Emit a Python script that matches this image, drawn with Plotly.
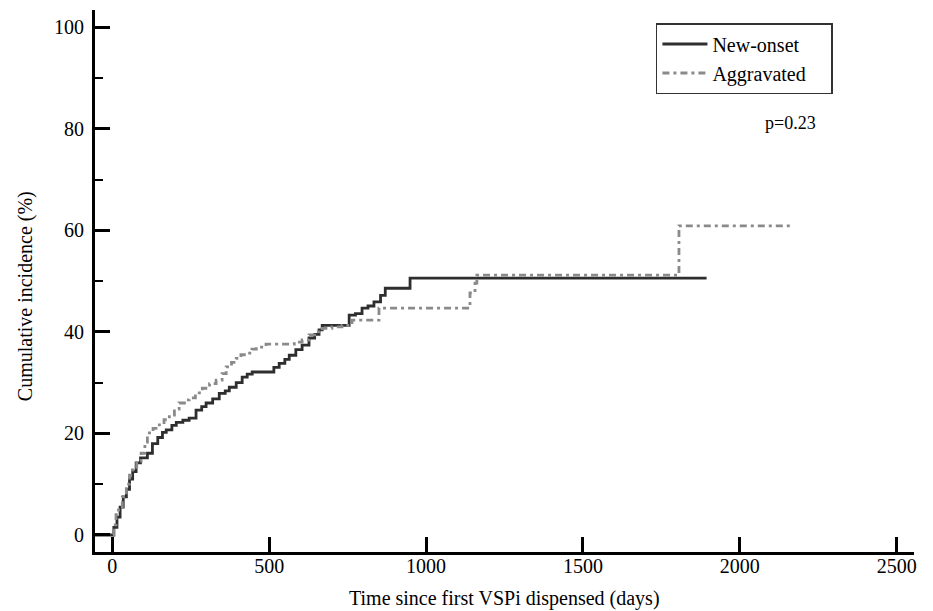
import plotly.graph_objects as go

# New-onset cumulative incidence (%), step curve
new_t = [-55, 0, 5, 15, 25, 35, 45, 55, 65, 76, 90, 112, 128, 145, 160, 172, 190, 204, 225, 245,
         267, 285, 299, 320, 341, 360, 373, 395, 414, 430, 446, 500, 515, 532, 550, 564, 585, 605,
         627, 645, 659, 669, 745, 755, 775, 796, 815, 834, 855, 870, 949, 1894]
new_v = [0, 0, 1.5, 3.5, 5.5, 7.5, 9, 11, 12.5, 14.2, 15.2, 16.1, 18, 19.2, 20.2, 20.7, 21.6, 22.2, 22.6, 23,
         24.6, 25.3, 26, 26.8, 27.9, 28.4, 29.1, 30, 31.1, 31.7, 32.1, 32.1, 33, 33.8, 34.6, 35.4, 36.5, 37.4,
         38.8, 39.5, 40.4, 41.3, 41.3, 43.3, 43.6, 44.7, 45.1, 45.9, 47.2, 48.6, 50.6, 50.6]

# Aggravated cumulative incidence (%), step curve
agg_t = [-55, 0, 5, 12, 20, 32, 45, 55, 64, 78, 92, 104, 112, 130, 150, 165, 182, 198, 213, 230, 245,
         265, 287, 310, 331, 350, 363, 380, 395, 410, 427, 445, 459, 490, 554, 580, 605, 627, 645, 669,
         700, 732, 764, 834, 850, 1124, 1140, 1156, 1162, 1806, 2170]
agg_v = [0, 0, 2, 4, 5.5, 7.5, 10, 11.8, 12.8, 14.5, 16.1, 18.3, 20.1, 21, 21.7, 22.7, 23.6, 24.8, 26, 26.6, 27,
         28, 28.9, 29.8, 30.5, 31.8, 33.1, 34, 34.8, 35.5, 35.8, 36.6, 37, 37.6, 37.6, 38, 38.4, 39.4, 40, 40.7,
         41, 41.3, 42.3, 42.3, 44.7, 44.7, 47.7, 49.6, 51.2, 60.9, 60.9]

x_ticks = [0, 500, 1000, 1500, 2000, 2500]
y_ticks = [0, 20, 40, 60, 80, 100]
y_minor = [10, 30, 50, 70, 90]
p_text = "p=0.23"
x_title = "Time since first VSPi dispensed (days)"
y_title = "Cumulative incidence (%)"
series_names = ["New-onset", "Aggravated"]

FONT = "Liberation Serif, Times New Roman, serif"
PAD = "\u00a0" * 4

fig = go.Figure()
fig.add_trace(go.Scatter(x=new_t, y=new_v, mode="lines", name=series_names[0],
                         line=dict(color="#2e2e2e", width=2.8, shape="hv")))
fig.add_trace(go.Scatter(x=agg_t, y=agg_v, mode="lines", name=series_names[1] + PAD,
                         line=dict(color="#8a8a8a", width=2.8, shape="hv", dash="7px,4px,3px,4px")))

fig.add_annotation(x=2160, y=81.2, text=p_text, showarrow=False, xref="x", yref="y",
                   font=dict(family=FONT, size=18, color="black"))
fig.add_annotation(x=0.5, y=-0.085, xref="paper", yref="paper", text=x_title, showarrow=False,
                   xanchor="center", yanchor="middle", font=dict(family=FONT, size=20, color="black"))
fig.add_annotation(x=-0.0855, y=0.472, xref="paper", yref="paper", text=y_title, showarrow=False,
                   textangle=-90, xanchor="center", yanchor="middle",
                   font=dict(family=FONT, size=20, color="black"))

fig.update_layout(
    width=933, height=611,
    margin=dict(l=87, r=27, t=2, b=67),
    paper_bgcolor="white", plot_bgcolor="white",
    font=dict(family=FONT, size=20, color="black"),
    showlegend=True,
    legend=dict(x=0.901, y=0.976, xanchor="right", yanchor="top",
                bordercolor="#333333", borderwidth=1.5, bgcolor="white",
                font=dict(family=FONT, size=20, color="black"),
                itemwidth=45, tracegroupgap=0),
    xaxis=dict(range=[-55, 2555], tickvals=x_ticks, ticktext=[str(v) for v in x_ticks],
               ticks="inside", ticklen=15, tickwidth=2.5, tickcolor="black",
               showline=True, linecolor="black", linewidth=3, showgrid=False, zeroline=False,
               automargin=False, ticklabelstandoff=-6, tickfont=dict(family=FONT, size=20)),
    yaxis=dict(range=[-3.35, 103.4], tickvals=y_ticks, ticktext=[str(v) for v in y_ticks],
               ticks="inside", ticklen=15, tickwidth=2.5, tickcolor="black",
               minor=dict(tickvals=y_minor, ticks="inside", ticklen=8,
                          tickwidth=2, tickcolor="black", showgrid=False),
               showline=True, linecolor="black", linewidth=3, showgrid=False, zeroline=False,
               automargin=False, ticklabelstandoff=4, tickfont=dict(family=FONT, size=20)),
)

fig.write_html("out.html")
